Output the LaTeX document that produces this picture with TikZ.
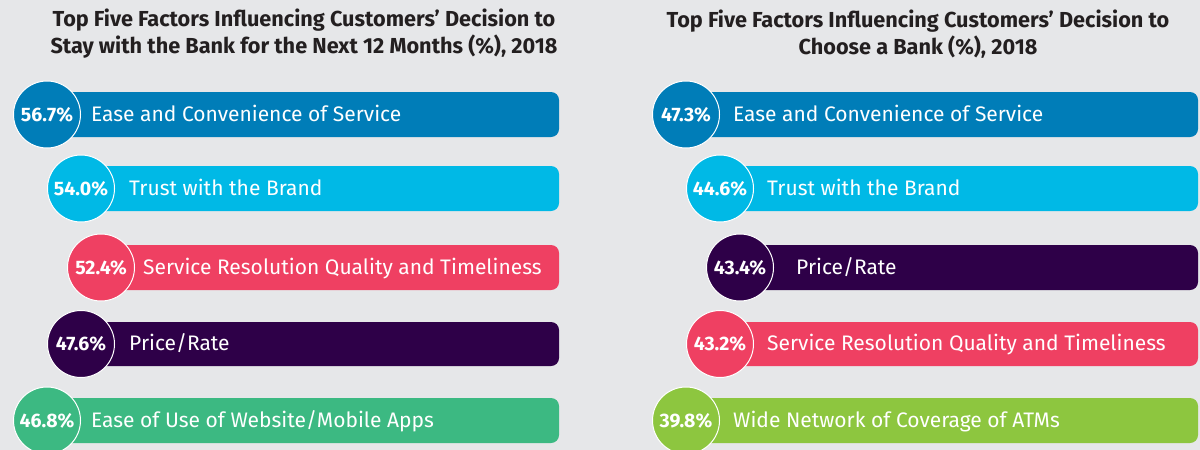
\documentclass[tikz,border=0pt]{standalone}
\usepackage{fontspec}
\setmainfont{Fira Sans}
\usetikzlibrary{positioning}

\definecolor{bggray}{HTML}{E6E7E9}
\definecolor{fblue}{HTML}{007DB8}
\definecolor{fcyan}{HTML}{00B9E6}
\definecolor{fred}{HTML}{EF4062}
\definecolor{fpurple}{HTML}{2E0048}
\definecolor{fgreen}{HTML}{3CB982}
\definecolor{flime}{HTML}{8DC63F}
\definecolor{ftitle}{HTML}{231F20}

\tikzset{
	factorbar/.style={rounded corners=8pt},
	pct/.style={circle,draw=white,line width=1pt,minimum size=67pt,inner sep=0pt,text=white,font=\bfseries\fontsize{19.5}{19.5}\selectfont},
	lbl/.style={anchor=base west,text=white,inner sep=0pt,font=\fontsize{21}{21}\selectfont},
	charttitle/.style={align=center,text=ftitle,font=\bfseries\fontsize{21.7}{27}\selectfont}
}

\begin{document}
\begin{tikzpicture}[x=1pt,y=-1pt]
	\fill[bggray] (0,0) rectangle (1200,450);
	\useasboundingbox (0,0) rectangle (1200,450);
	% left chart
	\node[charttitle] (lt) at (304,34) {Top Five Factors Influencing Customers’ Decision to\\Stay with the Bank for the Next 12 Months (\%), 2018};
	\fill[fblue,factorbar] (47,92) rectangle (559,137);
	\node[pct,fill=fblue] (l1) at (47,114.5) {56.7\%};
	\node[lbl] (l1t) at (91,121) {Ease and Convenience of Service};
	\fill[fcyan,factorbar] (81,166) rectangle (559,211);
	\node[pct,fill=fcyan] (l2) at (81,188.5) {54.0\%};
	\node[lbl] (l2t) at (129,195) {Trust with the Brand};
	\fill[fred,factorbar] (101,245) rectangle (559,290);
	\node[pct,fill=fred] (l3) at (101,267.5) {52.4\%};
	\node[lbl] (l3t) at (143,274) {Service Resolution Quality and Timeliness};
	\fill[fpurple,factorbar] (81,322) rectangle (559,366);
	\node[pct,fill=fpurple] (l4) at (81,344) {47.6\%};
	\node[lbl] (l4t) at (129,350.5) {Price/Rate};
	\fill[fgreen,factorbar] (47,398) rectangle (559,443);
	\node[pct,fill=fgreen] (l5) at (47,420.5) {46.8\%};
	\node[lbl] (l5t) at (91,427) {Ease of Use of Website/Mobile Apps};
	% right chart
	\node[charttitle] (rt) at (918,34) {Top Five Factors Influencing Customers’ Decision to\\Choose a Bank (\%), 2018};
	\fill[fblue,factorbar] (686,92) rectangle (1198,137);
	\node[pct,fill=fblue] (r1) at (686,114.5) {47.3\%};
	\node[lbl] (r1t) at (733,121) {Ease and Convenience of Service};
	\fill[fcyan,factorbar] (720,166) rectangle (1198,211);
	\node[pct,fill=fcyan] (r2) at (720,188.5) {44.6\%};
	\node[lbl] (r2t) at (767,195) {Trust with the Brand};
	\fill[fpurple,factorbar] (740,245) rectangle (1198,290);
	\node[pct,fill=fpurple] (r3) at (740,267.5) {43.4\%};
	\node[lbl] (r3t) at (796,274) {Price/Rate};
	\fill[fred,factorbar] (720,322) rectangle (1198,366);
	\node[pct,fill=fred] (r4) at (720,344) {43.2\%};
	\node[lbl] (r4t) at (767,350.5) {Service Resolution Quality and Timeliness};
	\fill[flime,factorbar] (686,398) rectangle (1198,443);
	\node[pct,fill=flime] (r5) at (686,420.5) {39.8\%};
	\node[lbl] (r5t) at (733,427) {Wide Network of Coverage of ATMs};
\end{tikzpicture}
\end{document}
